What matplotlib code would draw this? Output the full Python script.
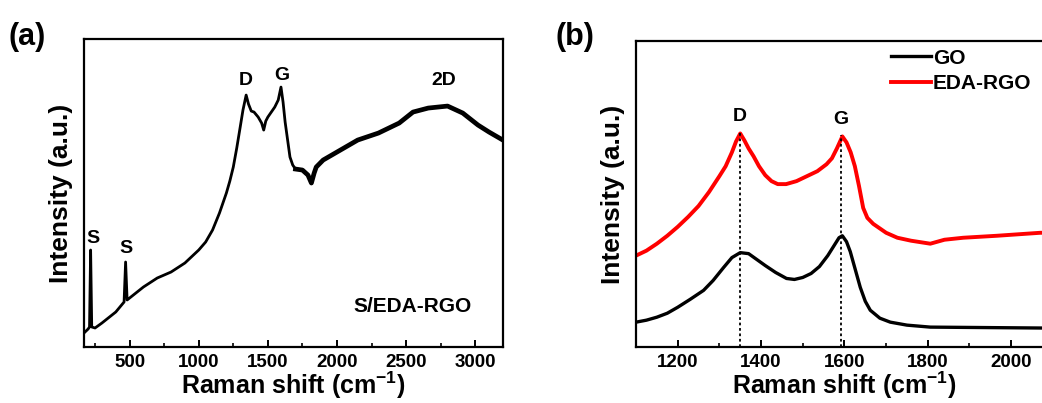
import matplotlib
matplotlib.use("Agg")
import matplotlib.pyplot as plt
from matplotlib.ticker import MultipleLocator, NullLocator

plt.rcParams['font.family'] = ['Liberation Sans', 'DejaVu Sans']
plt.rcParams['font.weight'] = 'bold'
plt.rcParams['axes.labelweight'] = 'bold'

# panel (a): S/EDA-RGO spectrum
a_shift = [170, 200, 210, 218, 226, 250, 300, 400, 460, 471, 482, 500, 600,
           700, 800, 900, 1000, 1050, 1100, 1150, 1200, 1225, 1250, 1275,
           1300, 1320, 1343, 1360, 1380, 1400, 1430, 1455, 1470, 1485, 1500,
           1550, 1575, 1595, 1610, 1625, 1640, 1660, 1680, 1700, 1750, 1790,
           1815, 1835, 1850, 1900, 2000, 2150, 2300, 2450, 2550, 2660, 2800,
           2910, 3020, 3100, 3200]
a_int = [14, 18, 20, 97, 20, 19, 24, 35, 45, 85, 47, 49, 60,
         69, 75, 84, 97, 105, 117, 134, 154, 166, 180, 199,
         220, 237, 252, 243, 236, 235, 230, 224, 217, 226, 230,
         240, 247, 260, 245, 225, 210, 190, 182, 178, 177, 172,
         164, 174, 180, 187, 195, 207, 214, 224, 235, 239, 241,
         234, 222, 215, 207]

# panel (b): GO and EDA-RGO
b_shift_red = [1100, 1125, 1150, 1175, 1200, 1225, 1250, 1275, 1300, 1315,
               1330, 1340, 1350, 1360, 1370, 1382, 1395, 1410, 1425, 1440,
               1460, 1485, 1510, 1535, 1557, 1570, 1582, 1595, 1605, 1615,
               1625, 1635, 1645, 1655, 1669, 1700, 1727, 1760, 1806, 1840,
               1885, 1966, 2070, 2100]
b_red = [92, 97, 104, 112, 121, 131, 142, 156, 172, 182,
         196, 207, 215, 208, 200, 192, 182, 173, 167, 164,
         164, 167, 172, 177, 184, 190, 200, 212, 206, 196,
         182, 162, 140, 130, 124, 115, 110, 107, 104, 108,
         110, 112, 115, 115]

b_shift_black = [1100, 1125, 1150, 1175, 1200, 1230, 1262, 1285, 1310, 1330,
                 1350, 1370, 1390, 1410, 1435, 1461, 1480, 1500, 1520, 1540,
                 1560, 1575, 1587, 1595, 1605, 1614, 1626, 1638, 1650, 1662,
                 1685, 1710, 1750, 1806, 2100]
b_black = [25, 27, 30, 34, 40, 48, 57, 67, 80, 90,
           95, 94, 88, 82, 75, 69, 68, 70, 74, 81,
           92, 102, 110, 112, 106, 96, 78, 60, 46, 37,
           29, 25, 22, 20, 19]

d_pos, g_pos = 1350, 1592
d_top, g_top = 215, 213

fig = plt.figure(figsize=(10.42, 4.03), dpi=100)

ax1 = fig.add_axes([0.0806, 0.139, 0.402, 0.764])
ax2 = fig.add_axes([0.6104, 0.139, 0.400, 0.759])

xlab = 'Raman shift (cm$^{\\mathregular{-1}}$)'
for ax in (ax1, ax2):
    for sp in ax.spines.values():
        sp.set_linewidth(1.6)
    ax.yaxis.set_major_locator(NullLocator())
    ax.tick_params(axis='x', which='major', direction='in', length=5,
                   width=1.4, labelsize=13.5, pad=5, top=False)
    ax.tick_params(axis='x', which='minor', direction='in', length=3,
                   width=1.2, top=False)
    ax.set_ylim(0, 308)
    ax.set_xlabel(xlab, fontsize=18, labelpad=-1)
    ax.set_ylabel('Intensity (a.u.)', fontsize=19, labelpad=8)

ax1.plot(a_shift, a_int, color='black', lw=2.0)
# the high-shift part of the spectrum is a noisy, heavier trace
noisy = [i for i, s in enumerate(a_shift) if s >= 1700]
ax1.plot([a_shift[i] for i in noisy], [a_int[i] for i in noisy],
         color='black', lw=3.4)
ax1.set_xlim(170, 3200)
ax1.xaxis.set_major_locator(MultipleLocator(500))
ax1.xaxis.set_minor_locator(MultipleLocator(250))
ax1.text(233, 109, 'S', ha='center', va='center', fontsize=14)
ax1.text(471, 99, 'S', ha='center', va='center', fontsize=14)
ax1.text(1343, 267, 'D', ha='center', va='center', fontsize=14)
ax1.text(1600, 272, 'G', ha='center', va='center', fontsize=14)
ax1.text(2771, 267, '2D', ha='center', va='center', fontsize=14)
ax1.text(2547, 40, 'S/EDA-RGO', ha='center', va='center', fontsize=15)

ax2.plot(b_shift_black, b_black, color='black', lw=2.4, label='GO')
ax2.plot(b_shift_red, b_red, color='#ff0000', lw=2.8, label='EDA-RGO')
ax2.plot([d_pos, d_pos], [0, d_top], color='black', lw=1.3, ls=(0, (1.5, 1.5)))
ax2.plot([g_pos, g_pos], [0, g_top], color='black', lw=1.3, ls=(0, (1.5, 1.5)))
ax2.set_xlim(1100, 2100)
ax2.xaxis.set_major_locator(MultipleLocator(200))
ax2.xaxis.set_minor_locator(MultipleLocator(100))
ax2.text(d_pos, 232, 'D', ha='center', va='center', fontsize=14)
ax2.text(g_pos, 229, 'G', ha='center', va='center', fontsize=14)
ax2.legend(loc='upper left', bbox_to_anchor=(0.612, 0.975), frameon=False,
           fontsize=15, handlelength=1.9, handletextpad=0.1,
           labelspacing=0.3, borderpad=0, borderaxespad=0)

fig.text(0.008, 0.908, '(a)', fontsize=22, fontweight='bold', va='center')
fig.text(0.533, 0.908, '(b)', fontsize=22, fontweight='bold', va='center')

fig.savefig('out.png', dpi=100)
